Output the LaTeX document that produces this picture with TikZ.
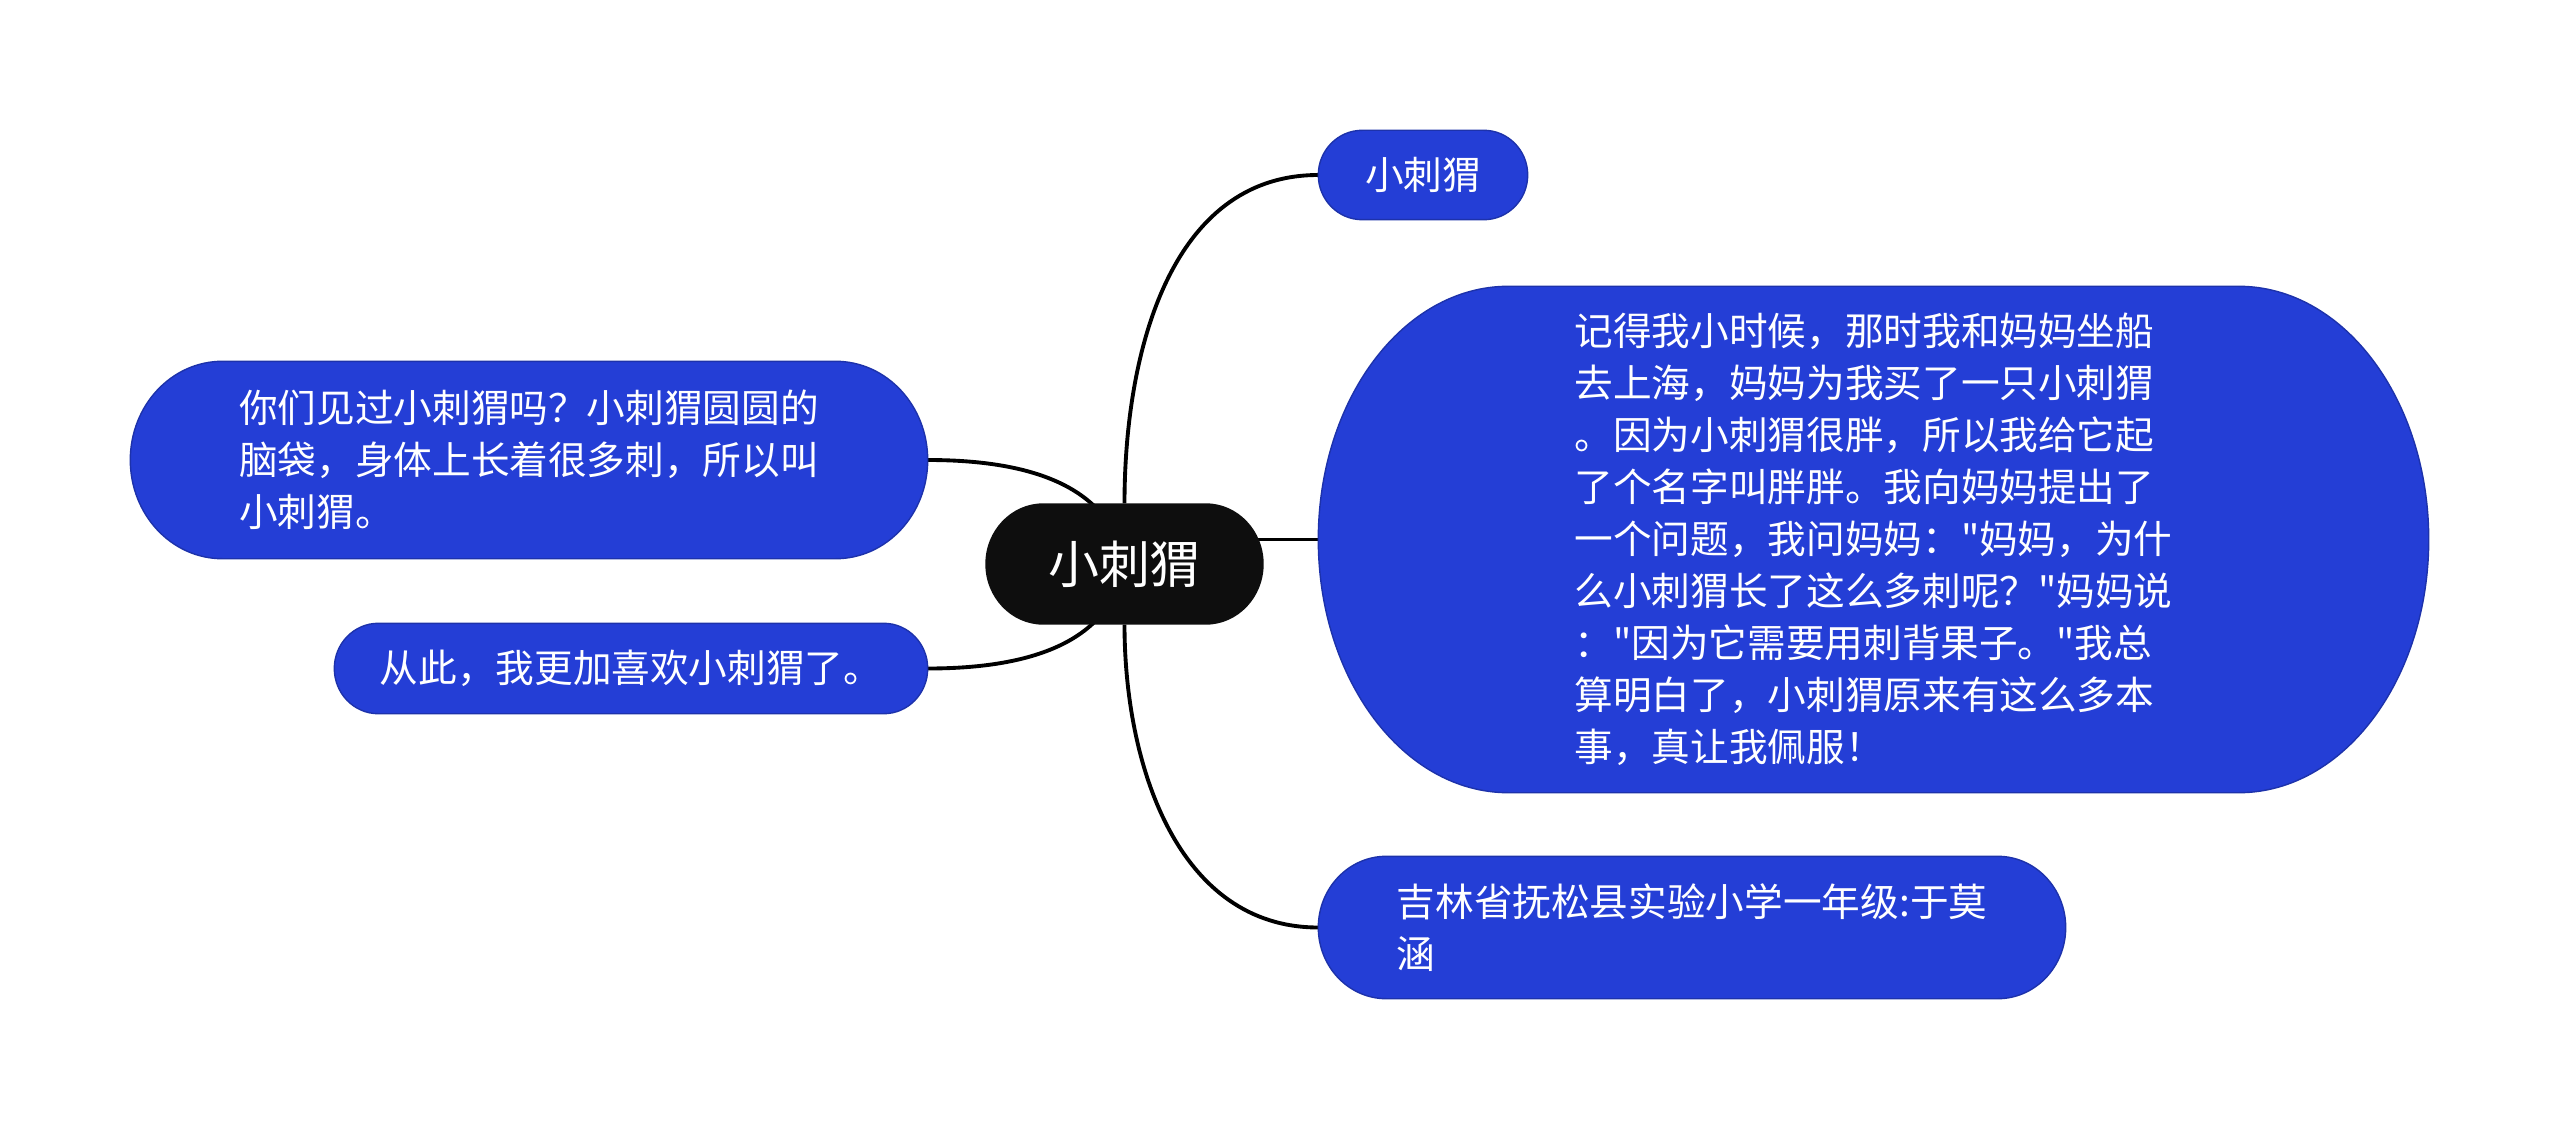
\documentclass[tikz,border=0pt]{standalone}
\usepackage{fontspec}
\setmainfont{Noto Sans CJK SC}[Ligatures=TeXOff]
\usepackage{tikz}
\usetikzlibrary{calc,backgrounds}
\definecolor{leafblue}{RGB}{36,62,214}
\definecolor{rootblack}{RGB}{14,14,14}
% bubble with elliptic ends: node, end radius, style
\newcommand{\PillFill}[3]{%
  \path[#3] let \p1=(#1.north), \p2=(#1.south), \n1={(\y1-\y2)/2} in
    ([xshift=#2]#1.north west) -- ([xshift=-#2]#1.north east)
    arc[start angle=90, end angle=-90, x radius=#2, y radius=\n1]
    -- ([xshift=#2]#1.south west)
    arc[start angle=270, end angle=90, x radius=#2, y radius=\n1] -- cycle;}

\begin{document}
\begin{tikzpicture}[
                root/.style={text=white, font=\fontsize{14.5pt}{17pt}\selectfont, minimum width=2.77cm, minimum height=1.2cm, inner sep=0pt},
                leaf/.style={text=white, font=\fontsize{11pt}{14.8pt}\selectfont, align=left, inner sep=0pt},
                rootfill/.style={fill=rootblack},
                leaffill/.style={fill=leafblue, draw=leafblue!80!black, line width=0.4pt},
                branch/.style={line width=1.1pt, black},
            ]
            \useasboundingbox (0,0) rectangle (25.6,-11.29);

            % Centre topic
            \node[root] (hub) at (11.245,-5.64) {小刺猬};

            % Right side
            \node[leaf, minimum width=2.08cm, minimum height=0.88cm] (title) at (14.23,-1.75) {小刺猬};
            \node[leaf, minimum width=11.09cm, minimum height=5.05cm] (story) at (18.735,-5.395)
                {记得我小时候，那时我和妈妈坐船\\
                 去上海，妈妈为我买了一只小刺猬\\
                 。因为小刺猬很胖，所以我给它起\\
                 了个名字叫胖胖。我向妈妈提出了\\
                 一个问题，我问妈妈："妈妈，为什\\
                 么小刺猬长了这么多刺呢？"妈妈说\\
                 ："因为它需要用刺背果子。"我总\\
                 算明白了，小刺猬原来有这么多本\\
                 事，真让我佩服！};
            \node[leaf, minimum width=7.46cm, minimum height=1.41cm] (author) at (16.92,-9.275)
                {吉林省抚松县实验小学一年级:于莫\\涵};

            % Left side
            \node[leaf, minimum width=7.96cm, minimum height=1.96cm] (intro) at (5.29,-4.60)
                {你们见过小刺猬吗？小刺猬圆圆的\\
                 脑袋，身体上长着很多刺，所以叫\\
                 小刺猬。};
            \node[leaf, minimum width=5.92cm, minimum height=0.89cm] (ending) at (6.31,-6.685)
                {从此，我更加喜欢小刺猬了。};

            \begin{scope}[on background layer]
            % Connectors
            \draw[branch] (hub) to[out=90, in=180] (title.west);
            \draw[branch] (story.west) -- (story.west -| hub.center);
            \draw[branch] (hub) to[out=-90, in=180] (author.west);
            \draw[branch] (intro.east) to[out=0, in=100] (hub.center);
            \draw[branch] (ending.east) to[out=0, in=-100] (hub.center);

            % Bubbles
            \PillFill{hub}{0.58cm}{rootfill}
            \PillFill{title}{0.44cm}{leaffill}
            \PillFill{story}{1.9cm}{leaffill}
            \PillFill{author}{0.68cm}{leaffill}
            \PillFill{intro}{0.92cm}{leaffill}
            \PillFill{ending}{0.44cm}{leaffill}
            \end{scope}
        \end{tikzpicture}
\end{document}
